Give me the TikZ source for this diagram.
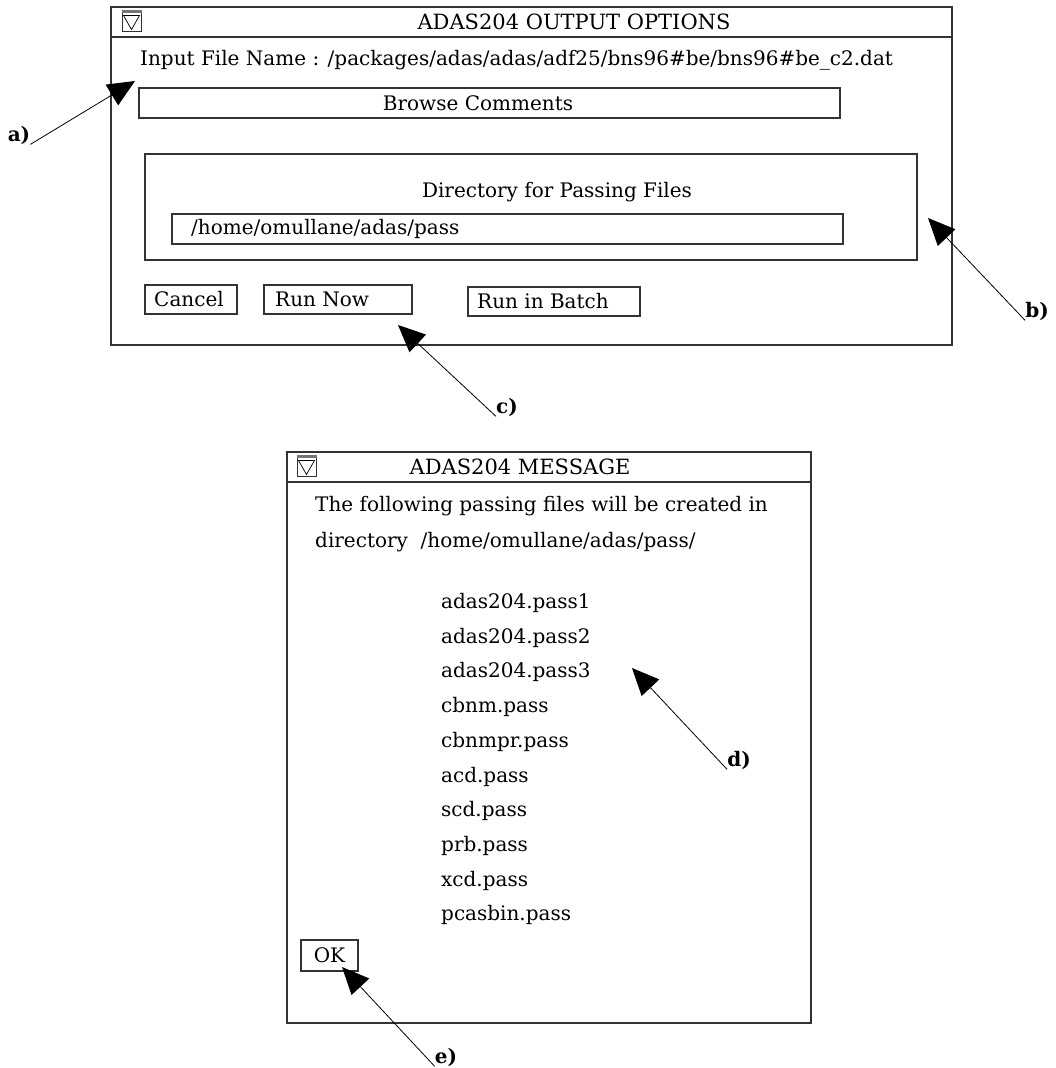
\documentclass[tikz,border=0pt]{standalone}
\usepackage{fontspec}
\setmainfont{DejaVu Serif}
\usetikzlibrary{arrows.meta,calc}
\newcommand\myfs{\fontsize{20}{24}\selectfont}
\newcommand\mytfs{\fontsize{21}{24}\selectfont}
\begin{document}
\begin{tikzpicture}[x=1pt,y=-1pt,
  win/.style={draw=black!80, line width=1.3pt},
  box/.style={draw=black!80, line width=1.2pt, inner sep=0pt, fill=white},
  txt/.style={font=\myfs, inner sep=0pt},
  ttl/.style={font=\mytfs, inner sep=0pt},
  lab/.style={font=\myfs\bfseries, inner sep=0pt},
  arr/.style={-{Triangle[length=27pt,width=24pt]}, line width=0.8pt, black},
  icon/.style={draw=black!80, line width=1pt, minimum size=19pt, inner sep=0pt}]
\useasboundingbox (0,0) rectangle (1055,1068);
\fill[white] (0,0) rectangle (1055,1068);

% ---------- top window ----------
\draw[win] (111,7) rectangle (952,345);
\draw[win] (111,37) -- (952,37);
\node[icon] (ic1) at (131.5,21.5) {};
\draw[line width=2.2pt, black!55] (ic1.north west) -- (ic1.north east);
\draw[line width=0.7pt] ($(ic1.north west)+(2,4)$) -- ($(ic1.north east)+(-2,4)$) -- ($(ic1.south)+(0,-2)$) -- cycle;
\node[ttl] (t1) at (574,22) {ADAS204 OUTPUT OPTIONS};
\node[txt, anchor=west] (infile) at (140,60) {Input File Name : /packages/adas/adas/adf25/bns96\#be/bns96\#be\_c2.dat};
\node[box, minimum width=701pt, minimum height=30pt] (browse) at (489.5,103) {};
\node[txt] (browset) at (478,103) {Browse Comments};
\node[box, minimum width=772pt, minimum height=106pt, fill=none] (dirgrp) at (531,207) {};
\node[txt] (dirlab) at (557,192) {Directory for Passing Files};
\node[box, minimum width=671pt, minimum height=30pt] (path) at (507.5,229) {};
\node[txt, anchor=west] (patht) at (191,229) {/home/omullane/adas/pass};
\node[box, minimum width=92pt, minimum height=29pt] (cancel) at (191,299.5) {};
\node[txt, anchor=west] (cancelt) at (154,299.5) {Cancel};
\node[box, minimum width=148pt, minimum height=29pt] (runnow) at (338,299.5) {};
\node[txt, anchor=west] (runnowt) at (275,299.5) {Run Now};
\node[box, minimum width=172pt, minimum height=29pt] (batch) at (554,301.5) {};
\node[txt, anchor=west] (batcht) at (477,301.5) {Run in Batch};

% ---------- message window ----------
\draw[win] (287,452) rectangle (811,1023);
\draw[win] (287,482) -- (811,482);
\node[icon] (ic2) at (306.5,466.5) {};
\draw[line width=2.2pt, black!55] (ic2.north west) -- (ic2.north east);
\draw[line width=0.7pt] ($(ic2.north west)+(2,4)$) -- ($(ic2.north east)+(-2,4)$) -- ($(ic2.south)+(0,-2)$) -- cycle;
\node[ttl] (t2) at (520,467) {ADAS204 MESSAGE};
\node[txt, anchor=west] (m1) at (315,506) {The following passing files will be created in};
\node[txt, anchor=west] (m2) at (315,542) {directory\ \ /home/omullane/adas/pass/};
\foreach \f [count=\i from 0] in {adas204.pass1,adas204.pass2,adas204.pass3,cbnm.pass,cbnmpr.pass,acd.pass,scd.pass,prb.pass,xcd.pass,pcasbin.pass}
  \node[txt, anchor=west] (f\i) at (441,603+34.7*\i) {\f};
\node[box, minimum width=57pt, minimum height=31pt] (ok) at (329.5,955.5) {};
\node[txt] (okt) at (329.5,955.5) {OK};

% ---------- callouts ----------
\node[lab] (la) at (19,135) {a)};
\node[lab] (lb) at (1037,311) {b)};
\node[lab] (lc) at (507,407) {c)};
\node[lab] (ld) at (739,760) {d)};
\node[lab] (le) at (446,1057) {e)};
\coordinate (pa) at (135,81);
\coordinate (pb) at (928,218);
\coordinate (pc) at (398,325);
\coordinate (pd) at (632,668);
\coordinate (pe) at (342,967);
\draw[arr] (la.south east) -- (pa);
\draw[arr] (lb.south west) -- (pb);
\draw[arr] (lc.south west) -- (pc);
\draw[arr] (ld.south west) -- (pd);
\draw[arr] (le.south west) -- (pe);
\end{tikzpicture}
\end{document}
